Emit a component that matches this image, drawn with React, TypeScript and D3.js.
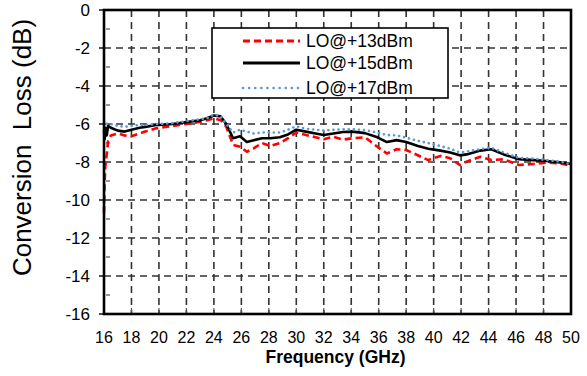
import React from "react";
import * as d3 from "d3";

// frequency samples (GHz)
const freq = [
  16, 16.05, 16.1, 16.2, 16.3, 16.5, 17, 17.5, 18, 18.6, 19, 19.8, 20, 21, 21.5, 22, 23, 23.5, 24, 24.5,
  24.9, 25.4, 25.9, 26.4, 26.9, 27.5, 28.1, 28.8, 29.4, 30, 30.7, 31.4, 32, 32.7, 33.4, 34.1, 35, 35.9,
  36.6, 37.3, 38, 38.8, 39.6, 40.5, 41.2, 41.9, 42.4, 43.4, 44.2, 45.1, 46.2, 47.3, 48.2, 49.2, 50,
];

const lo13 = [
  -10.7, -9.0, -8.2, -7.6, -6.9, -6.6, -6.5, -6.6, -6.65, -6.5, -6.4, -6.23, -6.2, -6.1, -6.05, -6.0, -5.88,
  -5.8, -5.7, -5.8, -6.14, -7.1, -7.2, -7.46, -7.28, -7.0, -7.16, -7.0, -6.75, -6.45, -6.58, -6.7, -6.8,
  -6.67, -6.82, -6.75, -6.7, -7.2, -7.55, -7.33, -7.37, -7.63, -7.9, -7.68, -7.8, -8.16, -7.98, -7.72,
  -7.9, -7.86, -8.16, -8.1, -8.03, -8.07, -8.2,
];

const lo15 = [
  -6.3, -6.8, -6.2, -6.6, -6.1, -6.2, -6.35, -6.4, -6.3, -6.2, -6.15, -6.05, -6.05, -6.0, -5.95, -5.9, -5.8,
  -5.7, -5.55, -5.6, -6.0, -6.75, -6.65, -6.95, -6.85, -6.75, -6.75, -6.7, -6.55, -6.3, -6.4, -6.5, -6.58,
  -6.5, -6.42, -6.4, -6.48, -6.7, -6.95, -6.85, -6.95, -7.15, -7.3, -7.4, -7.5, -7.65, -7.6, -7.4, -7.33,
  -7.6, -7.85, -7.9, -7.95, -8.02, -8.1,
];

const lo17 = [
  -5.9, -6.0, -5.95, -6.0, -5.95, -6.0, -6.1, -6.15, -6.1, -6.05, -6.05, -6.0, -6.0, -5.95, -5.9, -5.85,
  -5.75, -5.7, -5.5, -5.6, -6.0, -6.45, -6.3, -6.4, -6.5, -6.45, -6.45, -6.45, -6.3, -6.12, -6.25, -6.3,
  -6.35, -6.3, -6.28, -6.28, -6.32, -6.45, -6.58, -6.6, -6.72, -6.88, -7.0, -7.16, -7.3, -7.5, -7.45,
  -7.32, -7.25, -7.5, -7.78, -7.82, -7.9, -7.98, -8.12,
];

const xTicks = [16, 18, 20, 22, 24, 26, 28, 30, 32, 34, 36, 38, 40, 42, 44, 46, 48, 50];
const yTicks = [0, -2, -4, -6, -8, -10, -12, -14, -16];
const yMinor = [-1, -3, -5, -7, -9, -11, -13, -15];

const SERIES = [
  { key: "lo13", label: "LO@+13dBm", values: lo13, color: "#ff0000", width: 2.6, dash: "7,4", cap: "butt" },
  { key: "lo15", label: "LO@+15dBm", values: lo15, color: "#000000", width: 2.6, dash: "", cap: "butt" },
  { key: "lo17", label: "LO@+17dBm", values: lo17, color: "#5b9bd5", width: 2.6, dash: "0.1,5", cap: "round" },
];

const FONT = "'Liberation Sans', Arial, sans-serif";

export default function App() {
  const width = 587;
  const height = 376;
  const margin = { top: 10, right: 16, bottom: 62, left: 104 };
  const w = width - margin.left - margin.right;
  const h = height - margin.top - margin.bottom;

  const x = d3.scaleLinear().domain([16, 50]).range([0, w]);
  const y = d3.scaleLinear().domain([-16, 0]).range([h, 0]);

  const lines = SERIES.map((s) => ({
    ...s,
    path:
      d3
        .line<number>()
        .x((_, i) => x(freq[i]))
        .y((d) => y(d))(s.values) || "",
  }));

  return (
    <svg width={width} height={height} style={{ position: "absolute", left: 0, top: 0, background: "#fff" }}>
      <g transform={`translate(${margin.left},${margin.top})`}>
        {/* Grid */}
        {xTicks.slice(1, -1).map((t) => (
          <line key={"gx" + t} x1={x(t)} x2={x(t)} y1={0} y2={h} stroke="#333" strokeWidth={1.6} strokeDasharray="7,5" />
        ))}
        {yTicks.slice(1, -1).map((t) => (
          <line key={"gy" + t} x1={0} x2={w} y1={y(t)} y2={y(t)} stroke="#333" strokeWidth={1.6} strokeDasharray="7,5" />
        ))}

        {/* minor y ticks */}
        {yMinor.map((t) => (
          <line key={"my" + t} x1={2} x2={6} y1={y(t)} y2={y(t)} stroke="#555" strokeWidth={1.2} />
        ))}
        {/* bottom x ticks */}
        {xTicks.slice(1, -1).map((t) => (
          <line key={"bx" + t} x1={x(t)} x2={x(t)} y1={h - 6} y2={h} stroke="#555" strokeWidth={1.2} />
        ))}

        {/* Lines */}
        {lines.map((l) => (
          <path
            key={l.key}
            d={l.path}
            fill="none"
            stroke={l.color}
            strokeWidth={l.width}
            strokeDasharray={l.dash || undefined}
            strokeLinecap={l.cap as any}
            strokeLinejoin="round"
          />
        ))}

        {/* Frame */}
        <rect x={0} y={0} width={w} height={h} fill="none" stroke="#000" strokeWidth={2.6} />

        {/* Y axis */}
        {yTicks.map((t) => (
          <g key={"yt" + t}>
            <line x1={-5} x2={0} y1={y(t)} y2={y(t)} stroke="#000" strokeWidth={1.4} />
            <text x={-14} y={y(t)} fontSize={17} fontFamily={FONT} fill="#000" textAnchor="end" dominantBaseline="central">
              {t}
            </text>
          </g>
        ))}

        {/* X axis */}
        {xTicks.map((t) => (
          <text key={"xt" + t} x={x(t)} y={h + 29} fontSize={16} fontFamily={FONT} fill="#000" textAnchor="middle">
            {t}
          </text>
        ))}

        <text x={x(33) - 2} y={h + 49} fontSize={17.5} fontWeight="bold" fontFamily={FONT} fill="#000" textAnchor="middle">
          Frequency (GHz)
        </text>

        {/* Legend */}
        <g transform="translate(108,18)">
          <rect x={0} y={0} width={236} height={70} fill="#fff" stroke="#000" strokeWidth={1.6} />
          {lines.map((l, i) => (
            <g key={"lg" + l.key} transform={`translate(0,${[13, 35, 60][i]})`}>
              <line
                x1={31}
                x2={88}
                y1={0}
                y2={0}
                stroke={l.color}
                strokeWidth={l.key === "lo17" ? 2.6 : l.width + 0.6}
                strokeDasharray={l.key === "lo17" ? "0.1,6" : l.dash || undefined}
                strokeLinecap={l.cap as any}
              />
              <text x={94} y={0} fontSize={17.5} fontFamily={FONT} fill="#000" dominantBaseline="central">
                {l.label}
              </text>
            </g>
          ))}
        </g>
      </g>

      {/* Y label */}
      <text
        transform={`translate(31,${(10 + 285) / 2}) rotate(-90)`}
        fontSize={26}
        fontFamily={FONT}
        fill="#000"
        textAnchor="middle"
        style={{ whiteSpace: "pre" }}
      >
        {"Conversion  Loss (dB)"}
      </text>
    </svg>
  );
}
